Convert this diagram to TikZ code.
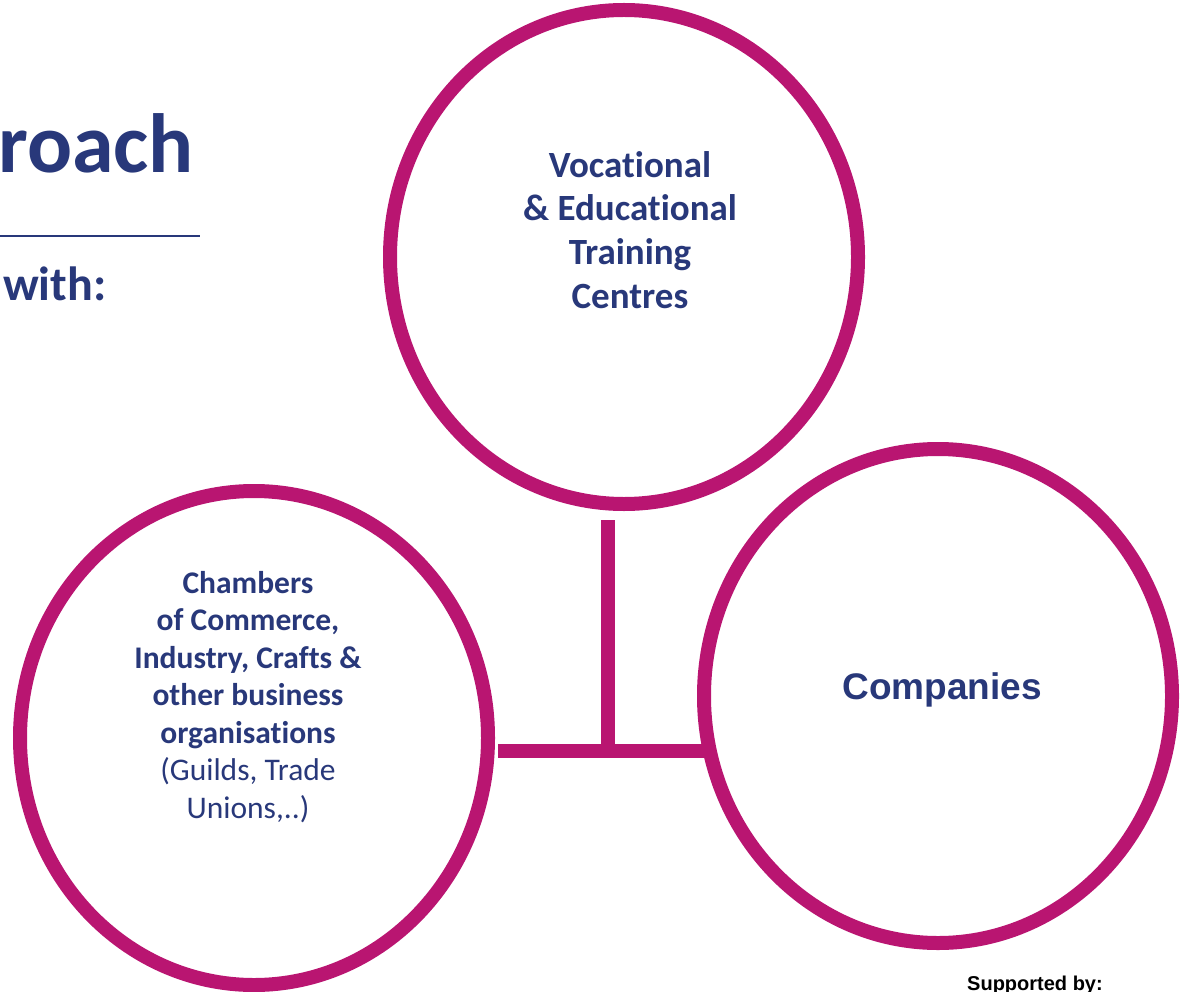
\documentclass[tikz,border=0pt]{standalone}
\usepackage{fontspec}
\setmainfont{Carlito}[Ligatures=NoCommon]
\newfontfamily\arialfont{Liberation Sans}
\usepackage{xcolor}
\usetikzlibrary{shapes.geometric}
\definecolor{ringpink}{RGB}{185,21,113}
\definecolor{textblue}{RGB}{40,56,122}

\begin{document}
\begin{tikzpicture}[x=1pt, y=-1pt,
    ring/.style={ellipse, draw=ringpink, line width=14pt, minimum width=468pt, minimum height=494pt, inner sep=0pt},
    bar/.style={draw=ringpink, line width=14pt},
    txt/.style={text=textblue, align=center, inner sep=0pt}]
                \useasboundingbox (0,0) rectangle (1185,992);
                \clip (0,0) rectangle (1185,992);
                % title, cut at the left
                \node[txt, anchor=base west, font=\fontsize{84}{90}\selectfont\bfseries] (title) at (-2,173) {roach};
                \draw[textblue, line width=1.5pt] (0,236) -- (200,236);
                \node[txt, anchor=base west, font=\fontsize{48}{52}\selectfont\bfseries] (with) at (3,300) {with:};
                % the three rings
                \node[ring] (vet) at (624,257) {};
                \node[ring] (chambers) at (254,738) {};
                \node[ring] (companies) at (938,696) {};
                \node[txt, font=\fontsize{37}{43.7}\selectfont\bfseries] (vettext) at (630,230) {Vocational\\ \& Educational\\ Training\\ Centres};
                \node[txt, font=\fontsize{31.5}{37.5}\selectfont] (chamberstext) at (248,697) {\textbf{Chambers}\\ \textbf{of Commerce,}\\ \textbf{Industry, Crafts \&}\\ \textbf{other business}\\ \textbf{organisations}\\ (Guilds, Trade\\ Unions,..)};
                \node[txt, font=\arialfont\fontsize{37}{40}\selectfont\bfseries] (companiestext) at (942,690) {Companies};
                % connector
                \coordinate (join) at (608,751);
                \draw[bar] (vet.south -| join) ++(0,9) -- ([yshift=-7pt]join);
                \draw[bar] ([xshift=3pt]chambers.east |- join) -- ([xshift=10pt]companies.west |- join);
                \node[anchor=base west, inner sep=0pt, font=\arialfont\fontsize{20}{22}\selectfont\bfseries] (support) at (967,990) {Supported by:};
            \end{tikzpicture}
\end{document}
